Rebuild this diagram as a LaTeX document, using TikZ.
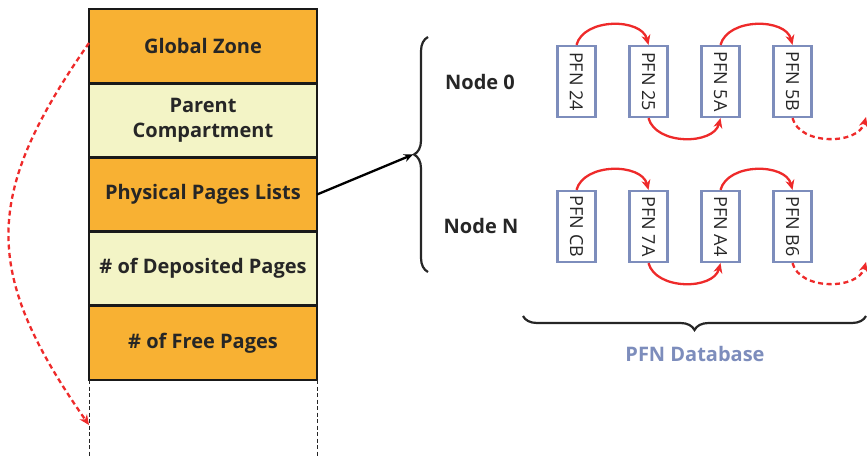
\documentclass[tikz,border=0pt]{standalone}
\usepackage{fontspec}
\setmainfont{Open Sans}
\usetikzlibrary{arrows.meta,positioning,decorations.pathreplacing,calc}
\definecolor{ZoneOrange}{HTML}{F8B133}
\definecolor{ZoneCream}{HTML}{F3F4C6}
\definecolor{PFNblue}{HTML}{7D8DBC}
\definecolor{LinkRed}{HTML}{EE2A2A}

\begin{document}
\begin{tikzpicture}[x=1pt,y=1pt,
    field/.style={draw=black!90,line width=2.8pt,minimum width=228pt,minimum height=74.2pt,inner sep=0pt,outer sep=0pt,align=center,text=black!85,font=\bfseries\fontsize{20}{25}\selectfont},
    pfnbox/.style={draw=PFNblue,line width=2.2pt,minimum width=71pt,minimum height=38pt,inner sep=0pt,rotate=-90,text=black!85,font=\fontsize{18}{20}\selectfont},
    link/.style={draw=LinkRed,line width=2.3pt,-{Stealth[length=10pt,width=9pt]}},
    nextlink/.style={link,dash pattern=on 5pt off 3.5pt},
    label/.style={text=black!85,font=\bfseries\fontsize{20}{24}\selectfont},
    curly/.style={draw=black!85,line width=2.2pt,decorate,decoration={brace,amplitude=14pt}}]
  \clip (0,0) rectangle (867,-455);

  % zone descriptor
  \node[field,fill=ZoneOrange] (gz) at (203,-46.1) {Global Zone};
  \node[field,fill=ZoneCream,below=0pt of gz] (pc) {Parent\\Compartment};
  \node[field,fill=ZoneOrange,below=0pt of pc] (ppl) {Physical Pages Lists};
  \node[field,fill=ZoneCream,below=0pt of ppl] (dep) {\# of Deposited Pages};
  \node[field,fill=ZoneOrange,below=0pt of dep] (free) {\# of Free Pages};
  \coordinate (leftend) at ($(free.south west)+(0,-80)$);
  \coordinate (rightend) at ($(free.south east)+(0,-80)$);
  \draw[black!85,line width=1pt,dash pattern=on 4pt off 2.5pt] (free.south west) -- (leftend);
  \draw[black!85,line width=1pt,dash pattern=on 4pt off 2.5pt] (free.south east) -- (rightend);
  \coordinate (gzout) at (89,-43);
  \coordinate (nextzone) at (89,-425);
  \draw[nextlink] (gzout) to[out=-125,in=125,looseness=1.25] (nextzone);

  % per-node lists
  \draw[curly] (428,-272) -- (428,-37);
  \coordinate (bracetip) at (413,-154.5);
  \draw[black,line width=2.3pt,-{Stealth[length=9pt,width=8pt]}] (ppl.east) -- (bracetip);
  \node[label] (node0) at (480,-82) {Node 0};
  \node[label] (nodeN) at (481,-226) {Node N};

  \foreach \val [count=\i] in {24,25,5A,5B}
    \node[pfnbox] (z\i) at (504.5+72*\i,-81.5) {PFN \val};
  \foreach \val [count=\i] in {CB,7A,A4,B6}
    \node[pfnbox] (n\i) at (504.5+72*\i,-226.5) {PFN \val};
  \coordinate (z5) at (866,-117);
  \coordinate (n5) at (866,-262);

  \draw[link] (z1.west) to[out=75,in=105] (z2.west);
  \draw[link] (z2.east) to[out=-75,in=-105] (z3.east);
  \draw[link] (z3.west) to[out=75,in=105] (z4.west);
  \draw[nextlink] (z4.east) to[out=-75,in=-105] (z5);
  \draw[link] (n1.west) to[out=75,in=105] (n2.west);
  \draw[link] (n2.east) to[out=-75,in=-105] (n3.east);
  \draw[link] (n3.west) to[out=75,in=105] (n4.west);
  \draw[nextlink] (n4.east) to[out=-75,in=-105] (n5);

  \draw[curly] (866,-316) -- (523,-316);
  \node[text=PFNblue,font=\bfseries\fontsize{20}{24}\selectfont] (pfndb) at (695,-354) {PFN Database};
\end{tikzpicture}
\end{document}
